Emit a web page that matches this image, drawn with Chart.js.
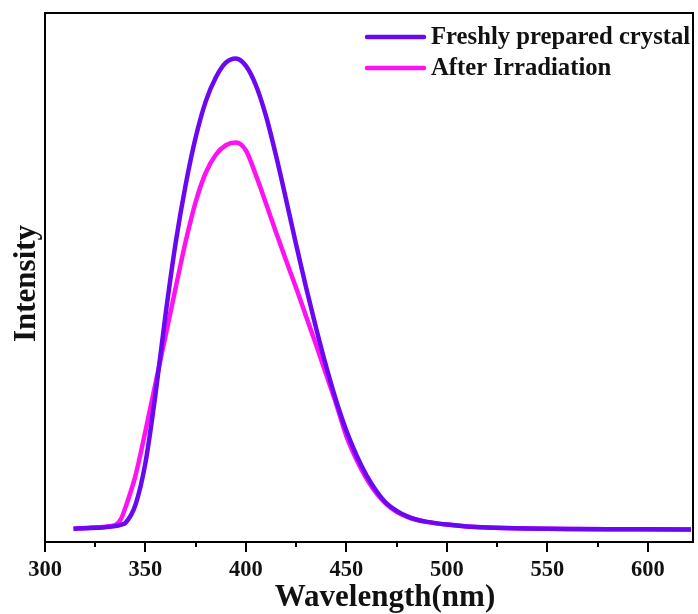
<!DOCTYPE html>
<html>
<head>
<meta charset="utf-8">
<script src="https://cdn.jsdelivr.net/npm/chart.js@4.4.1/dist/chart.umd.min.js"></script>
<style>
  html, body { margin: 0; padding: 0; background: #fff; }
  canvas { display: block; }
</style>
</head>
<body>
<canvas id="pl" width="698" height="614"></canvas>
<script>
// emission spectra, intensity in arbitrary units (0-100)
const freshNm = [314.2, 320, 330, 335, 338, 340, 345, 350, 355, 360, 365, 370, 375, 380, 385, 390,
  395, 400, 405, 410, 415, 420, 425, 430, 435, 440, 445, 450, 455, 460, 465, 470, 475, 480,
  485, 490, 500, 510, 520, 540, 560, 590, 621.5];
const freshIntensity = [2.5, 2.6, 2.8, 3.0, 3.3, 3.6, 7.0, 15.0, 28.0, 43.0, 56.5, 67.5, 76.5, 83.3, 87.8, 90.6,
  91.4, 90.0, 86.3, 80.5, 73.0, 64.7, 56.2, 48.0, 40.3, 33.1, 26.6, 21.0, 16.4, 12.6, 9.6, 7.3, 5.9, 4.9,
  4.2, 3.8, 3.3, 2.95, 2.75, 2.55, 2.45, 2.4, 2.35];

const irradNm = [314.2, 320, 330, 335, 338, 340, 345, 350, 355, 360, 365, 370, 375, 380, 385, 390,
  395, 400, 405, 410, 415, 420, 425, 430, 435, 440, 445, 450, 455, 460, 465, 470, 475, 480,
  485, 490, 500, 510, 520, 540, 560, 590, 621.5];
const irradIntensity = [2.5, 2.65, 2.9, 3.2, 4.5, 6.5, 12.5, 21.0, 30.0, 39.0, 48.0, 56.8, 64.3, 69.8, 73.2, 75.0,
  75.5, 74.0, 69.3, 64.0, 58.5, 53.2, 48.0, 42.6, 37.2, 31.6, 26.0, 20.0, 15.6, 12.0, 9.2, 7.1, 5.7, 4.8,
  4.2, 3.8, 3.3, 2.95, 2.75, 2.55, 2.45, 2.4, 2.35];

const seriesNames = ['Freshly prepared crystal', 'After Irradiation'];
const seriesColors = ['#6a08f2', '#ff12f2'];

const majorTicks = [300, 350, 400, 450, 500, 550, 600];
const minorTicks = [325, 375, 425, 475, 525, 575];

const xTitle = 'Wavelength(nm)';
const yTitle = 'Intensity';

const serif = "'Liberation Serif', 'Times New Roman', serif";

function toPoints(xs, ys) {
  return xs.map((x, i) => ({ x: x, y: ys[i] }));
}

// box around the plot, outward ticks, axis titles and the legend
const framePlugin = {
  id: 'frame',
  afterDraw(chart) {
    const ctx = chart.ctx;
    const a = chart.chartArea;
    const xs = chart.scales.x;
    ctx.save();
    ctx.strokeStyle = '#000';
    ctx.lineWidth = 2;
    ctx.strokeRect(a.left, a.top, a.right - a.left, a.bottom - a.top);

    ctx.beginPath();
    majorTicks.forEach(v => {
      const px = Math.round(xs.getPixelForValue(v));
      ctx.moveTo(px, a.bottom);
      ctx.lineTo(px, a.bottom + 10);
    });
    minorTicks.forEach(v => {
      const px = Math.round(xs.getPixelForValue(v));
      ctx.moveTo(px, a.bottom);
      ctx.lineTo(px, a.bottom + 5);
    });
    ctx.stroke();

    // axis titles
    ctx.fillStyle = '#111';
    ctx.font = 'bold 31px ' + serif;
    ctx.textAlign = 'center';
    ctx.textBaseline = 'alphabetic';
    ctx.fillText(xTitle, (a.left + a.right) / 2 + 16, chart.height - 8);
    ctx.save();
    ctx.translate(35, (a.top + a.bottom) / 2 + 6);
    ctx.rotate(-Math.PI / 2);
    ctx.fillText(yTitle, 0, 0);
    ctx.restore();

    // legend
    const x0 = a.right - 326;
    let y = a.top + 24;
    ctx.font = 'bold 24.7px ' + serif;
    ctx.textAlign = 'left';
    ctx.textBaseline = 'middle';
    ctx.lineCap = 'round';
    chart.data.datasets.forEach(ds => {
      ctx.strokeStyle = ds.borderColor;
      ctx.lineWidth = 4.5;
      ctx.beginPath();
      ctx.moveTo(x0, y);
      ctx.lineTo(x0 + 57, y);
      ctx.stroke();
      ctx.fillStyle = '#111';
      ctx.fillText(ds.label, x0 + 64, y + 1);
      y += 31;
    });
    ctx.restore();
  }
};

new Chart(document.getElementById('pl'), {
  type: 'line',
  data: {
    datasets: [
      {
        label: seriesNames[0],
        data: toPoints(freshNm, freshIntensity),
        borderColor: seriesColors[0],
        borderWidth: 4.5,
        pointRadius: 0,
        cubicInterpolationMode: 'monotone',
        fill: false
      },
      {
        label: seriesNames[1],
        data: toPoints(irradNm, irradIntensity),
        borderColor: seriesColors[1],
        borderWidth: 4.5,
        pointRadius: 0,
        cubicInterpolationMode: 'monotone',
        fill: false
      }
    ]
  },
  options: {
    responsive: false,
    animation: false,
    layout: { padding: { top: 13, right: 5, left: 0, bottom: 0 } },
    plugins: {
      legend: { display: false },
      tooltip: { enabled: false }
    },
    scales: {
      x: {
        type: 'linear',
        min: 300,
        max: 622.5,
        afterBuildTicks: s => { s.ticks = majorTicks.map(v => ({ value: v })); },
        afterFit: s => { s.height = 72; },
        border: { display: false },
        grid: { drawOnChartArea: false, drawTicks: true, tickLength: 10, color: 'rgba(0,0,0,0)' },
        ticks: {
          color: '#111',
          padding: 5,
          maxRotation: 0,
          font: { family: serif, size: 22.5, weight: 'bold' }
        }
      },
      y: {
        min: 0,
        max: 100,
        afterFit: s => { s.width = 45; },
        border: { display: false },
        grid: { display: false, drawTicks: false },
        ticks: { display: false }
      }
    }
  },
  plugins: [framePlugin]
});
</script>
</body>
</html>
